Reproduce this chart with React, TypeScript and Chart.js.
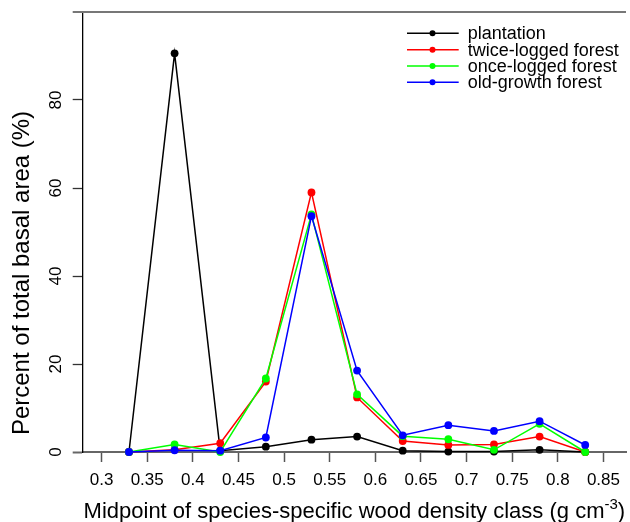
import React, { useEffect, useRef } from "react";
import { Chart, registerables } from "chart.js";

Chart.register(...registerables);

const densityClasses = [0.33, 0.38, 0.43, 0.48, 0.53, 0.58, 0.63, 0.68, 0.73, 0.78, 0.83];
const plantation = [0, 90.6, 0.3, 1.2, 2.8, 3.5, 0.3, 0.1, 0.1, 0.5, 0];
const twiceLogged = [0, 0.5, 2.0, 16.0, 59.0, 12.4, 2.5, 1.6, 1.7, 3.5, 0];
const onceLogged = [0, 1.7, 0, 16.7, 54.0, 13.1, 3.6, 2.9, 0.5, 6.4, 0];
const oldGrowth = [0, 0.4, 0.3, 3.3, 53.6, 18.5, 3.8, 6.1, 4.8, 7.0, 1.6];

const seriesLabels = ["plantation", "twice-logged forest", "once-logged forest", "old-growth forest"];
const seriesValues = [plantation, twiceLogged, onceLogged, oldGrowth];
const seriesColors = ["#000000", "#ff0000", "#00ff00", "#0000ff"];

const xTicks = [0.3, 0.35, 0.4, 0.45, 0.5, 0.55, 0.6, 0.65, 0.7, 0.75, 0.8, 0.85];
const yTicks = [0, 20, 40, 60, 80];
const xMin = 0.2793;
const xMax = 0.8747;
const yMin = 0;
const yMax = 100;

const xTitleMain = "Midpoint of species-specific wood density class (g cm";
const xTitleSup = "-3";
const xTitleEnd = ")";
const yTitle = "Percent of total basal area (%)";

const FONT = "'Liberation Sans', Arial, Helvetica, sans-serif";

const decorPlugin = {
  id: "decor",
  afterDraw(chart: any) {
    const ctx = chart.ctx as CanvasRenderingContext2D;
    const area = chart.chartArea;
    const yScale = chart.scales.y;
    ctx.save();
    // top frame line
    const yTop = yScale.getPixelForValue(yMax);
    ctx.strokeStyle = "#777777";
    ctx.lineWidth = 2;
    ctx.beginPath();
    ctx.moveTo(area.left - 10, yTop);
    ctx.lineTo(area.right, yTop);
    ctx.stroke();

    // legend
    const legLineX1 = area.right - 219;
    const legLineX2 = area.right - 167.3;
    const legDotX = area.right - 193.5;
    const legTextX = area.right - 158.3;
    const legY0 = area.top + 21.3;
    const legStep = 16.35;
    ctx.font = `18px ${FONT}`;
    ctx.textAlign = "left";
    ctx.textBaseline = "middle";
    chart.data.datasets.forEach((ds: any, i: number) => {
      const y = legY0 + i * legStep;
      ctx.strokeStyle = ds.borderColor;
      ctx.lineWidth = 1.5;
      ctx.beginPath();
      ctx.moveTo(legLineX1, y);
      ctx.lineTo(legLineX2, y);
      ctx.stroke();
      ctx.fillStyle = ds.borderColor;
      ctx.beginPath();
      ctx.arc(legDotX, y, 3, 0, Math.PI * 2);
      ctx.fill();
      ctx.fillStyle = "#000000";
      ctx.fillText(ds.label, legTextX, y + 1);
    });

    // x title with superscript
    const mainFont = `22px ${FONT}`;
    const supFont = `15px ${FONT}`;
    ctx.font = mainFont;
    const wMain = ctx.measureText(xTitleMain).width;
    const wEnd = ctx.measureText(xTitleEnd).width;
    ctx.font = supFont;
    const wSup = ctx.measureText(xTitleSup).width;
    const total = wMain + wSup + wEnd;
    const cx = (area.left + area.right) / 2;
    let x = cx - total / 2;
    const baseY = area.bottom + 66;
    ctx.fillStyle = "#000000";
    ctx.textBaseline = "alphabetic";
    ctx.textAlign = "left";
    ctx.font = mainFont;
    ctx.fillText(xTitleMain, x, baseY);
    x += wMain;
    ctx.font = supFont;
    ctx.fillText(xTitleSup, x, baseY - 9);
    x += wSup;
    ctx.font = mainFont;
    ctx.fillText(xTitleEnd, x, baseY);

    // y title
    ctx.translate(22, (area.top + area.bottom) / 2 + 41);
    ctx.rotate(-Math.PI / 2);
    ctx.textAlign = "center";
    ctx.textBaseline = "middle";
    ctx.font = `24px ${FONT}`;
    ctx.fillText(yTitle, 0, 0);
    ctx.restore();
  },
};

export default function App() {
  const canvasRef = useRef<HTMLCanvasElement | null>(null);

  useEffect(() => {
    document.body.style.margin = "0";
    const canvas = canvasRef.current;
    if (!canvas) return;
    Chart.defaults.font.family = FONT;
    const orders = [4, 3, 2, 1];
    const chart = new Chart(canvas, {
      type: "line",
      data: {
        datasets: seriesLabels.map((label, i) => ({
          label,
          data: densityClasses.map((d, j) => ({ x: d, y: seriesValues[i][j] })),
          borderColor: seriesColors[i],
          backgroundColor: seriesColors[i],
          pointBackgroundColor: seriesColors[i],
          pointBorderColor: seriesColors[i],
          pointRadius: 3.9,
          pointBorderWidth: 0,
          borderWidth: 1.5,
          tension: 0,
          fill: false,
          clip: false as any,
          order: orders[i],
        })),
      },
      options: {
        animation: false,
        responsive: true,
        maintainAspectRatio: false,
        layout: { padding: { top: 12, right: 0, left: 0, bottom: 0 } },
        plugins: {
          legend: { display: false },
          tooltip: { enabled: false },
          title: { display: false },
        },
        scales: {
          x: {
            type: "linear",
            min: xMin,
            max: xMax,
            afterBuildTicks: (scale: any) => {
              scale.ticks = xTicks.map((v) => ({ value: v }));
            },
            afterFit: (scale: any) => {
              scale.height = 70;
              scale.paddingLeft = 0;
              scale.paddingRight = 0;
            },
            ticks: {
              autoSkip: false,
              maxRotation: 0,
              minRotation: 0,
              padding: 8,
              color: "#000000",
              font: { size: 17 },
              callback: (v: any) => String(Number(Number(v).toFixed(2))),
            },
            grid: {
              drawOnChartArea: false,
              drawTicks: true,
              tickLength: 10,
              tickColor: "#555555",
              tickWidth: 1.5,
            },
            border: { display: true, color: "#666666", width: 2 },
          },
          y: {
            type: "linear",
            min: yMin,
            max: yMax,
            afterBuildTicks: (scale: any) => {
              scale.ticks = yTicks.map((v) => ({ value: v }));
            },
            afterFit: (scale: any) => {
              scale.width = 82.7;
              scale.paddingTop = 0;
              scale.paddingBottom = 0;
            },
            ticks: {
              minRotation: 90,
              maxRotation: 90,
              crossAlign: "center",
              padding: 6.5,
              color: "#000000",
              font: { size: 17 },
              callback: (v: any) => String(v),
            },
            grid: {
              drawOnChartArea: false,
              drawTicks: true,
              tickLength: 10,
              tickColor: (c: any) => (c.tick && c.tick.value === 0 ? "#666666" : "#333333"),
              tickWidth: (c: any) => (c.tick && c.tick.value === 0 ? 2 : 1.3),
            },
            border: { display: true, color: "#000000", width: 1.3 },
          },
        },
      },
      plugins: [decorPlugin],
    } as any);
    return () => {
      chart.destroy();
    };
  }, []);

  return (
    <div style={{ width: 630, height: 522, position: "relative" }}>
      <canvas ref={canvasRef} />
    </div>
  );
}
